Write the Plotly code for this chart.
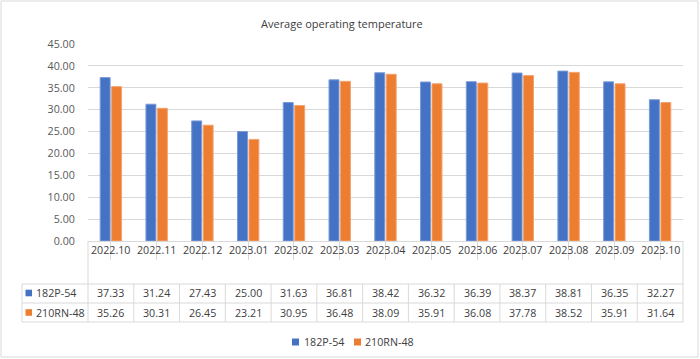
import plotly.graph_objects as go

categories = ["2022.10", "2022.11", "2022.12", "2023.01", "2023.02", "2023.03", "2023.04",
              "2023.05", "2023.06", "2023.07", "2023.08", "2023.09", "2023.10"]
series_names = ["182P-54", "210RN-48"]
s1_values = [37.33, 31.24, 27.43, 25.00, 31.63, 36.81, 38.42, 36.32, 36.39, 38.37, 38.81, 36.35, 32.27]
s2_values = [35.26, 30.31, 26.45, 23.21, 30.95, 36.48, 38.09, 35.91, 36.08, 37.78, 38.52, 35.91, 31.64]
y_ticks = [0, 5, 10, 15, 20, 25, 30, 35, 40, 45]
title_text = "Average operating temperature"

W, H = 700, 359
L, R, T, B = 88, 17, 44, 118
PW, PH = W - L - R, H - T - B

def py(p):  # pixel y -> paper y
    return (H - B - p) / PH

def px(p):  # pixel x -> paper x
    return (p - L) / PW

FONT = "Open Sans"
FS = 10.7
GRID = "#d9d9d9"
TXT = "#404040"
colors = ["#4472C4", "#ED7D31"]
edges = ["#7b9ad6", "#f3a470"]

fig = go.Figure()
for name, vals, c, e in zip(series_names, [s1_values, s2_values], colors, edges):
    fig.add_trace(go.Bar(x=list(range(len(categories))), y=vals, name=name,
                         marker=dict(color=c, line=dict(color=e, width=1))))

shapes = []
annotations = []

# category row labels
for i, c in enumerate(categories):
    annotations.append(dict(x=i, y=py(250), xref="x", yref="paper", text=c, showarrow=False,
                            font=dict(family=FONT, size=FS, color=TXT), yanchor="middle"))

# data rows
rows = [(s1_values, 293), (s2_values, 312.5)]
for (vals, yc), name, c in zip(rows, series_names, colors):
    for i, v in enumerate(vals):
        annotations.append(dict(x=i, y=py(yc), xref="x", yref="paper", text=f"{v:.2f}",
                                showarrow=False, font=dict(family=FONT, size=FS, color=TXT),
                                yanchor="middle"))
    annotations.append(dict(x=px(34), y=py(yc), xref="paper", yref="paper", text=name,
                            showarrow=False, xanchor="left", yanchor="middle",
                            font=dict(family=FONT, size=FS, color=TXT)))
    shapes.append(dict(type="rect", xref="paper", yref="paper", x0=px(25.5), x1=px(32),
                       y0=py(yc + 3.3), y1=py(yc - 3.3), fillcolor=c, line=dict(width=0)))

# legend (bottom)
legend_items = [(292, 302), (354, 363)]
for (sx, tx), name, c in zip(legend_items, series_names, colors):
    shapes.append(dict(type="rect", xref="paper", yref="paper", x0=px(sx), x1=px(sx + 7),
                       y0=py(342 + 3.5), y1=py(342 - 3.5), fillcolor=c, line=dict(width=0)))
    annotations.append(dict(x=px(tx), y=py(342), xref="paper", yref="paper", text=name,
                            showarrow=False, xanchor="left", yanchor="middle",
                            font=dict(family=FONT, size=FS, color=TXT)))

# horizontal table lines
for yy in [284, 303, 322]:
    shapes.append(dict(type="line", xref="paper", yref="paper", x0=px(22), x1=1,
                       y0=py(yy), y1=py(yy), line=dict(color=GRID, width=1)))
# outer vertical lines
shapes.append(dict(type="line", xref="paper", yref="paper", x0=px(22), x1=px(22),
                   y0=py(284), y1=py(322), line=dict(color=GRID, width=1)))
for xx in [0, 1]:
    shapes.append(dict(type="line", xref="paper", yref="paper", x0=xx, x1=xx,
                       y0=0, y1=py(322), line=dict(color=GRID, width=1)))
# inner category dividers for data rows
for i in range(1, len(categories)):
    shapes.append(dict(type="line", xref="x", yref="paper", x0=i - 0.5, x1=i - 0.5,
                       y0=py(284), y1=py(322), line=dict(color=GRID, width=1)))
# outer chart border
shapes.append(dict(type="rect", xref="paper", yref="paper", x0=px(1), x1=px(698),
                   y0=py(357), y1=py(1), line=dict(color="#d9d9d9", width=1)))

annotations.append(dict(x=px(342), y=py(24), xref="paper", yref="paper", text=title_text,
                        showarrow=False, xanchor="center", yanchor="middle",
                        font=dict(family=FONT, size=11, color=TXT)))

fig.update_layout(
    width=W, height=H, margin=dict(l=L, r=R, t=T, b=B),
    paper_bgcolor="white", plot_bgcolor="white",
    barmode="group", bargap=0.5, bargroupgap=0.13,
    showlegend=False,
    shapes=shapes, annotations=annotations,
    font=dict(family=FONT),
)
fig.update_xaxes(showticklabels=False, ticks="outside", tickson="boundaries", ticklen=18,
                 tickcolor=GRID, showline=True, linecolor=GRID, linewidth=1,
                 showgrid=False, range=[-0.5, 12.5], tickmode="linear", tick0=0, dtick=1)
fig.update_yaxes(range=[0, 45], tickvals=y_ticks, tickformat=".2f", showgrid=True,
                 gridcolor=GRID, gridwidth=1, zeroline=False, showline=False,
                 tickfont=dict(family=FONT, size=FS, color="#595959"),
                 ticks="outside", ticklen=10, tickcolor="rgba(0,0,0,0)")

fig.write_html("out.html", post_script="document.body.style.margin='0';",
               config={"displayModeBar": False})
